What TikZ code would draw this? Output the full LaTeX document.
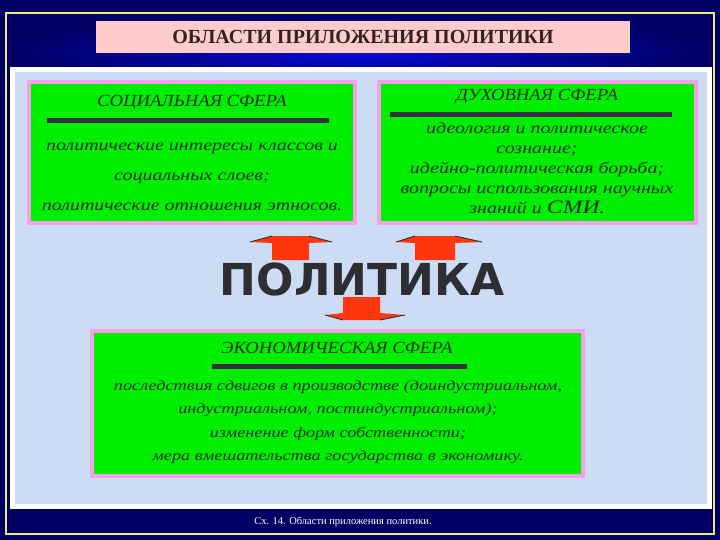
\documentclass[tikz,border=0pt]{standalone}
\usepackage{fontspec}
\setmainfont{Liberation Serif}
\newfontfamily\scr[FakeStretch=1.25]{Liberation Serif}
\newfontfamily\scrt[FakeStretch=1.1]{Liberation Serif}
\newfontfamily\bigsans{DejaVu Sans}
\definecolor{bgnavy}{RGB}{0,0,100}
\definecolor{hdrblue}{RGB}{10,10,220}
\definecolor{panelblue}{RGB}{205,220,245}
\definecolor{boxgreen}{RGB}{0,238,0}
\definecolor{boxpink}{RGB}{245,160,235}
\definecolor{titlepink}{RGB}{255,204,204}
\definecolor{txtdark}{RGB}{25,50,25}
\definecolor{frameyellow}{RGB}{235,235,120}
\definecolor{arrred}{RGB}{255,55,10}
\definecolor{bardark}{RGB}{50,50,60}
\tikzset{
  sphere/.style={draw=boxpink, line width=4pt, fill=boxgreen, inner sep=0pt},
  spheretitle/.style={font=\scrt\itshape\fontsize{17}{20}\selectfont, text=txtdark},
  spherebody/.style={text=txtdark, align=center, inner sep=0pt},
  topbar/.style={line width=5pt, draw=bardark},
  blockarrow/.style={fill=arrred, draw=none},
  wingedge/.style={draw=bardark, line width=0.9pt},
}
\begin{document}
\begin{tikzpicture}[x=1pt,y=-1pt]
\useasboundingbox (0,0) rectangle (720,540);
% background
\fill[bgnavy] (0,0) rectangle (720,540);
\shade[inner color=hdrblue, outer color=bgnavy] (6,13) rectangle (714,90);
\draw[frameyellow, line width=1.5pt] (6,13) rectangle (714,534);
% panel
\fill[white] (10,67) rectangle (712,509);
\fill[panelblue] (15,72) rectangle (707,504);
% title
\node[fill=titlepink, minimum width=534pt, minimum height=32pt, inner sep=0pt,
      font=\bfseries\fontsize{20}{22}\selectfont, text={rgb,255:red,50;green,35;blue,35}]
  (title) at (363,37) {ОБЛАСТИ ПРИЛОЖЕНИЯ ПОЛИТИКИ};
% social sphere
\node[sphere, minimum width=326pt, minimum height=141pt] (social) at (192,152.5) {};
\node[spheretitle] (socialt) at (192,103) {СОЦИАЛЬНАЯ СФЕРА};
\draw[topbar] (47,121) -- (329,121);
\node[spherebody, font=\scr\itshape\fontsize{16}{30}\selectfont] (socialb) at (192,177)
  {политические интересы классов и\\социальных слоев;\\политические отношения этносов.};
% spiritual sphere
\node[sphere, minimum width=317pt, minimum height=141pt] (spirit) at (537.5,152.5) {};
\node[spheretitle] (spiritt) at (537,97) {ДУХОВНАЯ СФЕРА};
\draw[topbar] (390,115) -- (672,115);
\node[spherebody, font=\scr\itshape\fontsize{16}{19.8}\selectfont] (spiritb) at (537,168)
  {идеология и политическое\\сознание;\\идейно-политическая борьба;\\вопросы использования научных\\знаний и {\fontsize{19}{19.8}\selectfont СМИ}.};
% economic sphere
\node[sphere, minimum width=491pt, minimum height=145pt] (econ) at (337.5,403.5) {};
\node[spheretitle] (econt) at (337,348) {ЭКОНОМИЧЕСКАЯ СФЕРА};
\draw[topbar] (212,366) -- (467,366);
\node[spherebody, font=\scr\itshape\fontsize{14.6}{23.3}\selectfont] (econb) at (338,422)
  {последствия сдвигов в производстве (доиндустриальном,\\индустриальном, постиндустриальном);\\изменение форм собственности;\\мера вмешательства государства в экономику.};
% politics
\node[font=\bigsans\bfseries\fontsize{44}{44}\selectfont, text={rgb,255:red,45;green,45;blue,50}, inner sep=0pt]
  (polit) at (362,279) {ПОЛИТИКА};
% arrows
\fill[blockarrow] (250,242) -- (272,236) -- (309,236) -- (332,242) -- (309,243) -- (309,260) -- (272,260) -- (272,243) -- cycle;
\draw[wingedge] (250,242) -- (272,236) (309,236) -- (332,242);
\fill[blockarrow] (396,242) -- (415,236) -- (455,236) -- (482,242) -- (455,243) -- (455,260) -- (415,260) -- (415,243) -- cycle;
\draw[wingedge] (396,242) -- (415,236) (455,236) -- (482,242);
\fill[blockarrow] (343,297) -- (380,297) -- (380,313) -- (405,315) -- (380,320) -- (343,320) -- (325,315) -- (343,313) -- cycle;
\draw[wingedge] (325,315) -- (343,320) (380,320) -- (405,315);
% caption
\node[font=\fontsize{10.5}{12}\selectfont, text=white] (caption) at (343,522) {Сх. 14. Области приложения политики.};
\end{tikzpicture}
\end{document}
